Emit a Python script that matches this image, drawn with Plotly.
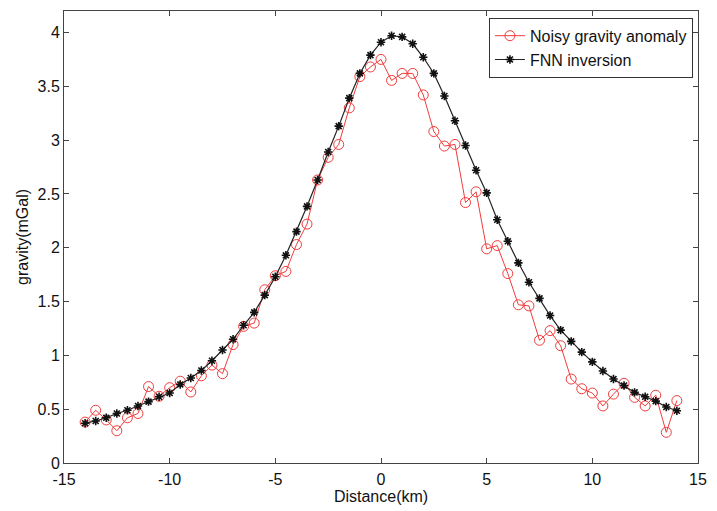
import plotly.graph_objects as go

distance_km = [-14 + 0.5 * i for i in range(57)]

noisy_gravity = [0.38, 0.49, 0.40, 0.30, 0.42, 0.46, 0.71, 0.62, 0.70, 0.76,
                 0.66, 0.81, 0.91, 0.83, 1.10, 1.27, 1.30, 1.61, 1.74, 1.78,
                 2.03, 2.22, 2.63, 2.84, 2.96, 3.30, 3.59, 3.68, 3.75, 3.555,
                 3.62, 3.62, 3.42, 3.08, 2.945, 2.96, 2.42, 2.52, 1.99, 2.02,
                 1.76, 1.47, 1.46, 1.14, 1.23, 1.09, 0.78, 0.69, 0.65, 0.53,
                 0.64, 0.74, 0.61, 0.53, 0.63, 0.285, 0.58]

fnn_inversion = [0.37, 0.39, 0.42, 0.46, 0.49, 0.53, 0.57, 0.615, 0.65, 0.73,
                 0.79, 0.86, 0.95, 1.05, 1.15, 1.28, 1.40, 1.56, 1.73, 1.93,
                 2.15, 2.385, 2.63, 2.89, 3.13, 3.39, 3.62, 3.79, 3.91, 3.97,
                 3.96, 3.895, 3.77, 3.62, 3.41, 3.18, 2.95, 2.72, 2.51, 2.26,
                 2.06, 1.86, 1.68, 1.53, 1.37, 1.235, 1.13, 1.03, 0.94, 0.855,
                 0.78, 0.72, 0.656, 0.615, 0.575, 0.52, 0.485]

x_ticks = [-15, -10, -5, 0, 5, 10, 15]
x_tick_labels = ["-15", "-10", "-5", "0", "5", "10", "15"]
y_ticks = [0, 0.5, 1, 1.5, 2, 2.5, 3, 3.5, 4]
y_tick_labels = ["0", "0.5", "1", "1.5", "2", "2.5", "3", "3.5", "4"]

fig = go.Figure()
fig.add_trace(go.Scatter(
    x=distance_km, y=noisy_gravity, mode="lines+markers",
    name="Noisy gravity anomaly",
    line=dict(color="#f03c3c", width=1),
    marker=dict(symbol="circle-open", size=10, color="#f03c3c", line=dict(width=1, color="#f03c3c")),
))
fig.add_trace(go.Scatter(
    x=distance_km, y=fnn_inversion, mode="lines+markers",
    name="FNN inversion",
    line=dict(color="#222222", width=1.2),
    marker=dict(symbol="asterisk-open", size=7, color="#111111", line=dict(width=1.6, color="#111111")),
))

axis_font = dict(family="Liberation Sans, Arial, sans-serif", size=16, color="#111111")
fig.update_layout(
    width=717, height=511,
    margin=dict(l=64, r=10, t=10, b=48),
    paper_bgcolor="white", plot_bgcolor="white",
    font=axis_font,
    showlegend=True,
    legend=dict(x=0.992, y=0.985, xanchor="right", yanchor="top",
                bordercolor="#333333", borderwidth=1, bgcolor="white",
                font=dict(family="Liberation Sans, Arial, sans-serif", size=16, color="#111111"),
                tracegroupgap=0, itemwidth=30),
)
fig.update_xaxes(
    range=[-15, 15], tickvals=x_ticks, ticktext=x_tick_labels, ticks="inside", ticklen=5,
    showline=True, linecolor="#444444", linewidth=1, mirror="allticks",
    showgrid=False, zeroline=False, tickcolor="#444444", ticklabelstandoff=2,
    title=dict(text="Distance(km)", standoff=0, font=axis_font),
)
fig.update_yaxes(
    range=[0, 4.2], tickvals=y_ticks, ticktext=y_tick_labels, ticks="inside", ticklen=5,
    showline=True, linecolor="#444444", linewidth=1, mirror="allticks",
    showgrid=False, zeroline=False, tickcolor="#444444",
    title=dict(text="gravity(mGal)", standoff=4, font=axis_font),
)

fig.write_html("out.html")
